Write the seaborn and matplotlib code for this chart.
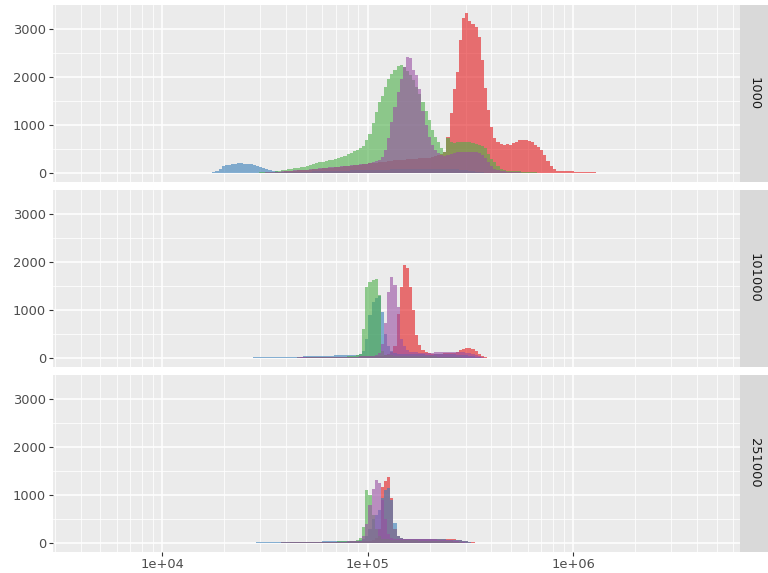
import numpy as np
import pandas as pd
import matplotlib
matplotlib.use("Agg")
import matplotlib.pyplot as plt
import seaborn as sns
from matplotlib.ticker import FixedLocator, NullFormatter

# ---------------- data: counts per log10 bin ----------------
LOG_LO = 3.62          # first bin edge (log10)
LOG_BW = 0.0152        # bin width (log10)
NBINS = 200

panels = ["1000", "101000", "251000"]
series = ["A", "B", "C", "D"]
palette = ["#E41A1C", "#377EB8", "#4DAF4A", "#984EA3"]
x_ticks = [1e4, 1e5, 1e6]
x_tick_labels = ["1e+04", "1e+05", "1e+06"]
y_ticks = [0, 1000, 2000, 3000]

# ---- panel "1000" ----
p1_A_start = 30
p1_A = [2,2,3,2,3,3,4,3,4,5, 5,6,5,6,7,7,8,8,9,10, 10,11,12,12,13,14,15,15,16,18,
        20,24,30,38,45,52,56,60,63,66, 70,76,82,88,94,100,106,112,118,124,
        130,136,142,148,154,160,168,176,184,192, 200,208,216,224,232,240,248,256,264,272,
        280,284,288,292,296,300,306,312,318,324, 330,340,355,375,400,
        450,
        750,1250,1750,2100,2770,3220,3330,3170,3110,3040, 2840,2350,1770,1310,960,730,650,615,600,610,
        600,640,650,690,700,690,680,650,600,550, 480,375,255,165,100,60,
        55,50,48,45,42,40,36,33,30,28, 25,22,20,18,15,12,10,8,6,5,
        4,4,3,3,2,2,2,1,2,1, 1,1,1,0,1,1,0,1,0,1, 1,0,0,1,0,1,0,0]
p1_B_start = 0
p1_B = [1,0,1,2,1,2,2,3,2,3, 3,4,3,4,5,4,5,6,5,6, 7,6,7,8,8,9,8,10,9,10, 11,10,12,12,13,14,15,16,14,
        10,15,25,50,100,145,170,185,195,205, 210,210,205,200,195,175,160,140,120,95, 70,55,45,40,38,38,
        38,36,35,36,37,38,40,41,42,44, 45,46,48,50,52,53,55,56,58,60, 62,63,65,66,68,70,72,73,75,76,
        78,80,82,83,85,86,88,90,90,92, 92,94,95,96,96,98,98,100,100,98, 96,94,92,90,86,80,72,64,55,46,
        38,30,24,18,14,10,
        8,7,6,5,5,4,4,3,3,3, 2,2,2,2,1,1,1,1,1,1, 0,1,0,1,0,0,1,0,0,1]
p1_C_start = 20
p1_C = [1,1,2,1,2,2,2,3,3,3, 4,4,4,5,5,5,6,6,6,7, 7,8,8,9,9,10,10,11,12,12,
        13,14,15,17,18,20,22,25,28,32, 40,48,60,70,80,90,100,110,120,130,
        140,160,180,200,220,230,240,255,270,285, 300,320,340,370,400,430,460,490,520,560,
        690,820,1040,1280,1480,1600,1800,1970,2070,2150,
        2230,2250,2200,2120,2050,1950,1800,1650,1480,1300, 1100,900,760,650,520,440,730,650,640,650,
        660,650,650,660,640,620,600,560,520,400, 300,230,150,100,80,60,
        55,50,50,45,40,40,35,30,25,20, 18,16,14,12,10,9,8,7,6,5, 5,4,4,3,3,2,2,2,1,1, 1,1,0,1,0]
p1_D_start = 20
p1_D = [0,1,1,1,1,2,1,2,2,2, 2,3,3,3,3,4,4,4,5,5, 5,6,6,7,7,8,8,9,9,10,
        10,11,12,13,14,15,17,19,21,23, 25,32,40,48,55,58,60,62,65,68, 75,82,90,95,100,105,110,118,125,130,
        135,142,150,155,160,168,175,182,190,195, 200,215,230,250,270,
        350,480,730,1070,1380,1690,1970,2210,2420,2400, 2140,2040,1760,1300,1000,760,600,480,420,380,
        370,380,400,420,440,440,450,450,455,450, 440,420,380,330,240,150,100,70,55,45, 40,
        35,30,30,25,20,18,15,12,10,8, 7,6,5,5,4,4,3,3,2,2, 2,1,1,1,1,0,1,0,0,1]

# ---- panel "101000" ----
p2_A_start = 30
p2_A = [1,2,1,2,2,3,2,3,3,4, 3,4,4,5,5,5,6,6,7,7, 8,8,9,9,10,10,11,12,12,13,
        14,15,15,16,17,18,19,20,21,22, 23,24,25,26,27,28,29,30,31,32, 33,34,35,36,37,38,39,40,42,
        44,46,48,50,52,55,60,70,90,130,250,
        930,1480,1930,1870,1480,1000,480,270,170,130,110,
        100,95,95,100,105,110,115,120,130,170, 200,215,210,190,150,100,60,35,20,14, 10,8,6,5,5,
        4,4,3,3,3,2,2,2,2,1, 1,1,1,1,0,1,0,1,0,0, 1,0,0,0,1]
p2_B_start = 10
p2_B = [1,0,1,1,1,2,1,2,2,2, 2,3,3,3,4,3,4,4,5,5, 5,6,6,6,7,7,8,8,9,9, 10,10,11,11,12,13,13,14,15,16,
        17,18,19,20,21,22,23,24,25,26, 28,29,30,32,33,34,36,37,38,40, 42,44,46,48,50,52,54,56,58,60,
        62,64,66,68,70,72,75,80,90,
        150,400,900,1170,1250,1300,960,500,250,150,110,
        100,95,92,90,88,86,85,84,83,82, 82,82,83,84,85,86,86,85,84,82, 78,72,64,55,45,35,26,18,12,8, 5,
        4,3,3,2,2,2,1,1,1,1, 0,1,0,0,1]
p2_C_start = 30
p2_C = [1,1,1,2,1,2,2,2,3,3, 3,3,4,4,4,5,5,5,6,6, 6,7,7,8,8,9,9,10,10,11,
        11,12,13,13,14,15,16,17,18,19, 20,21,22,23,24,25,26,28,30,32, 34,36,38,40,45,50,60,75,
        100,620,1480,1590,1620,1650,1310,150,80,
        70,65,60,60,58,55,55,52,50,50, 48,48,46,45,44,42,40,38,36,34, 32,30,28,24,20,16,12,9,6,
        5,4,4,3,3,2,2,2,1,1, 1,1,0,1,0,0,1,0,0,1]
p2_D_start = 30
p2_D = [1,1,2,1,2,2,2,3,3,3, 4,4,4,5,5,6,6,6,7,7, 8,8,9,9,10,10,11,11,12,13,
        13,14,15,16,16,17,18,19,20,21, 22,23,24,25,26,27,28,29,30,31, 32,33,34,35,36,37,38,40,42,
        45,48,52,58,70,120,300,
        730,1380,1690,1520,1070,400,250,170,140,130,
        125,120,118,118,120,122,125,128,130,132, 134,135,134,132,130,125,118,105,90,70, 50,32,20,12,8,
        6,5,4,4,3,3,2,2,2,1, 1,1,1,0,1,0,1,0,0,1]

# ---- panel "251000" ----
p3_A_start = 20
p3_A = [1,1,1,1,1,2,1,2,2,2, 2,3,3,3,3,4,4,4,4,5, 5,5,6,6,6,7,7,7,8,8,
        9,9,10,10,11,11,12,12,13,14, 15,16,17,18,19,20,21,22,23,24, 25,26,27,28,29,30,31,32,33,34,
        35,36,37,38,40,42,44,46,48,52, 60,
        60,80,120,300,1170,1300,1380,935,300,150,110,
        100,95,92,90,88,88,88,90,92,94, 96,98,100,100,98,95,90,82,72,60, 46,34,22,14,9,
        6,4,3,3,2,2,1,1,1,1, 0,1,1,0,0,1,0,0,1,0, 0,0,1,0]
p3_B_start = 10
p3_B = [1,1,0,1,1,1,2,1,2,2, 2,2,3,3,3,3,4,4,4,5, 5,5,6,6,6,7,7,8,8,9, 9,10,10,11,11,12,13,13,14,15,
        16,17,18,19,20,21,22,23,24,25, 26,27,28,29,30,31,32,33,34,35, 36,37,38,39,40,41,42,43,44,45,
        46,47,48,50,52,54,56,60,70,90,
        150,300,500,600,700,950,1100,1150,900,415,160,110,
        100,95,92,90,88,86,85,84,84,85, 86,86,85,84,82,80,76,70,62,52, 42,30,20,12,
        8,5,4,3,2,2,1,1,1,0,1,0,0,1,0]
p3_C_start = 20
p3_C = [1,1,1,1,2,1,2,2,2,2, 3,3,3,3,4,4,4,5,5,5, 6,6,6,7,7,8,8,9,9,10,
        10,11,11,12,13,13,14,15,16,17, 18,19,20,21,22,23,24,25,26,27, 28,29,30,31,32,33,34,35,36,38,
        40,42,44,46,48,52,56,65,
        120,340,1100,1000,600,300,150,100,
        90,85,80,78,75,72,70,68,66,64, 62,60,60,58,58,56,55,54,52,50, 48,45,40,35,28,20,14,9,6,4,
        3,3,2,2,1,1,1,1,0,1,0,0,1,0,0]
p3_D_start = 20
p3_D = [1,1,1,2,1,2,2,2,3,2, 3,3,3,4,4,4,5,5,5,6, 6,6,7,7,8,8,8,9,9,10,
        10,11,12,12,13,14,14,15,16,17, 18,19,20,21,22,23,24,25,26,27, 28,29,30,31,32,33,34,35,36,37,
        38,39,40,41,42,44,46,50,60,
        150,400,800,1140,1310,1250,900,500,200,120,100,
        95,92,90,88,86,85,84,84,85,86, 86,85,84,82,80,76,70,62,52,42, 32,24,16,10,6,4,
        3,3,2,2,2,1,1,1,0,1,0,1,0,0,1]

panel_data = {
    "1000":   [(p1_A_start, p1_A), (p1_B_start, p1_B), (p1_C_start, p1_C), (p1_D_start, p1_D)],
    "101000": [(p2_A_start, p2_A), (p2_B_start, p2_B), (p2_C_start, p2_C), (p2_D_start, p2_D)],
    "251000": [(p3_A_start, p3_A), (p3_B_start, p3_B), (p3_C_start, p3_C), (p3_D_start, p3_D)],
}

edges = LOG_LO + LOG_BW * np.arange(NBINS + 1)
centers = edges[:-1] + LOG_BW / 2
bin_edges = [float(e) for e in edges]

rows = []
for pan in panels:
    for s, (start, vals) in zip(series, panel_data[pan]):
        vals = list(vals)[:NBINS - start]
        for i, v in enumerate(vals):
            if v > 0:
                rows.append((pan, s, 10 ** centers[start + i], v))
df = pd.DataFrame(rows, columns=["panel", "series", "value", "count"])

# ---------------- figure ----------------
W, H = 768, 573
fig = plt.figure(figsize=(W / 100, H / 100), dpi=100)
plt.rcParams["font.family"] = ["DejaVu Sans"]

left, right = 53, 740
tops = [5, 190, 375]
ph = 176.5
ymax = df["count"].max()
span = edges[-1] - edges[0]
xlo, xhi = 10 ** (edges[0] - 0.05 * span), 10 ** (edges[-1] + 0.05 * span)
x_minor = [k * 10 ** d for d in range(3, 7) for k in range(2, 10)]
y_minor = [500, 1500, 2500]

for pi, pan in enumerate(panels):
    t = tops[pi]
    ax = fig.add_axes([left / W, 1 - (t + ph) / H, (right - left) / W, ph / H])
    ax.set_facecolor("#EBEBEB")
    sub = df[df["panel"] == pan]
    for s, col in zip(series, palette):
        d = sub[sub["series"] == s]
        sns.histplot(data=d, x="value", weights="count", bins=bin_edges, log_scale=True,
                     element="step", fill=True, alpha=0.6, linewidth=0, color=col, ax=ax)
    ax.set_xscale("log")
    ax.set_xlim(xlo, xhi)
    ax.set_ylim(-0.05 * ymax, 1.05 * ymax)
    ax.set_xlabel("")
    ax.set_ylabel("")
    ax.xaxis.set_major_locator(FixedLocator(x_ticks))
    ax.xaxis.set_minor_locator(FixedLocator(x_minor))
    ax.xaxis.set_minor_formatter(NullFormatter())
    ax.yaxis.set_major_locator(FixedLocator(y_ticks))
    ax.yaxis.set_minor_locator(FixedLocator(y_minor))
    ax.set_axisbelow(True)
    ax.grid(which="major", color="white", linewidth=1.1)
    ax.grid(which="minor", color="white", linewidth=0.55)
    for sp in ax.spines.values():
        sp.set_visible(False)
    ax.tick_params(which="minor", length=0)
    ax.tick_params(axis="y", which="major", length=3, width=0.8, color="#333333",
                   labelcolor="#4D4D4D", labelsize=9.4, pad=2)
    ax.set_yticklabels([str(v) for v in y_ticks])
    if pi == len(panels) - 1:
        ax.tick_params(axis="x", which="major", length=3, width=0.8, color="#333333",
                       labelcolor="#4D4D4D", labelsize=9.4, pad=2)
        ax.set_xticklabels(x_tick_labels)
    else:
        ax.tick_params(axis="x", which="major", length=0, labelbottom=False)
    # strip
    sax = fig.add_axes([right / W, 1 - (t + ph) / H, (W - right) / W, ph / H])
    sax.set_facecolor("#D9D9D9")
    sax.set_xticks([])
    sax.set_yticks([])
    for sp in sax.spines.values():
        sp.set_visible(False)
    sax.text(0.5, 0.5, pan, rotation=270, ha="center", va="center",
             fontsize=9.4, color="#1A1A1A", transform=sax.transAxes)

fig.savefig("out.png", dpi=100, facecolor="white")
